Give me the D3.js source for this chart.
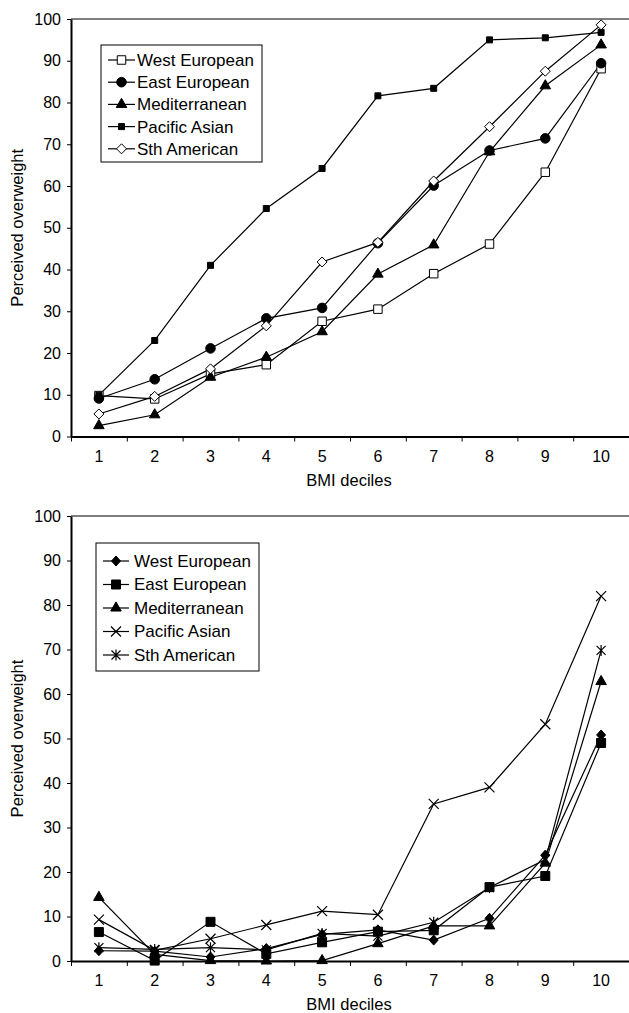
<!DOCTYPE html>
<html>
<head>
<meta charset="utf-8">
<script src="https://cdn.jsdelivr.net/npm/d3@7"></script>
<style>
  body { margin: 0; background: #fff; }
  svg { display: block; font-family: "Liberation Sans", Arial, sans-serif; }
</style>
</head>
<body>
<div id="chart"></div>
<script>
// categories and tick labels
var deciles = [1, 2, 3, 4, 5, 6, 7, 8, 9, 10];
var yTicks = [0, 10, 20, 30, 40, 50, 60, 70, 80, 90, 100];
var seriesNames = ["West European", "East European", "Mediterranean", "Pacific Asian", "Sth American"];

// upper panel values
var topWest    = [9.8, 9.0, 15.0, 17.2, 27.6, 30.5, 39.0, 46.1, 63.3, 88.1];
var topEast    = [9.1, 13.7, 21.1, 28.3, 30.8, 46.3, 60.1, 68.5, 71.4, 89.4];
var topMed     = [2.6, 5.2, 14.2, 19.0, 25.1, 38.9, 45.9, 68.2, 84.0, 93.8];
var topPacific = [9.9, 23.0, 41.0, 54.6, 64.2, 81.6, 83.4, 95.0, 95.5, 96.8];
var topSth     = [5.4, 9.6, 16.2, 26.5, 41.8, 46.5, 61.2, 74.2, 87.5, 98.6];

// lower panel values
var botWest    = [2.3, 2.2, 0.9, 2.8, 6.0, 7.0, 4.7, 9.6, 23.8, 50.8];
var botEast    = [6.5, 0.1, 8.8, 1.6, 4.2, 6.6, 6.9, 16.6, 19.1, 49.0];
var botMed     = [14.3, 1.5, 0.1, 0.0, 0.1, 3.9, 7.9, 7.9, 22.0, 62.8];
var botPacific = [9.3, 2.4, 5.0, 8.1, 11.2, 10.4, 35.3, 39.0, 53.2, 82.0];
var botSth     = [3.0, 2.6, 3.0, 2.5, 6.2, 5.6, 8.7, 16.5, 22.8, 69.8];

var W = 629, H = 1013;
var svg = d3.select("#chart").append("svg")
    .attr("width", W)
    .attr("height", H);

// marker paths
function markerPath(type) {
  if (type === "square") return d3.symbol(d3.symbolSquare, 72)();
  if (type === "smallsquare") return d3.symbol(d3.symbolSquare, 36)();
  if (type === "bigsquare") return d3.symbol(d3.symbolSquare, 81)();
  if (type === "circle") return d3.symbol(d3.symbolCircle, 72)();
  if (type === "triangle") return d3.symbol(d3.symbolTriangle, 48)();
  if (type === "diamond") return "M0,-5L5,0L0,5L-5,0Z";
  if (type === "fdiamond") return "M0,-5L4.5,0L0,5L-4.5,0Z";
  if (type === "x") return "M-5,-5L5,5M-5,5L5,-5";
  if (type === "asterisk") return "M-4.5,-4.5L4.5,4.5M-4.5,4.5L4.5,-4.5M0,-5.5L0,5.5";
}

function drawMarker(g, type, filled) {
  var p = g.append("path").attr("d", markerPath(type)).attr("stroke", "#000");
  if (type === "x" || type === "asterisk") {
    p.attr("fill", "none").attr("stroke-width", 1.2);
  } else {
    p.attr("fill", filled ? "#000" : "#fff").attr("stroke-width", 1);
  }
}

function drawChart(cfg) {
  var g = svg.append("g");

  var x = d3.scaleBand().domain(deciles).range([71, 629]).paddingInner(0).paddingOuter(0);
  var xEdge = d3.scaleLinear().domain([0, 10]).range([71, 629]);
  var y = d3.scaleLinear().domain([0, 100]).range([cfg.bottom, cfg.top]);

  // top frame line
  g.append("line")
    .attr("x1", 71).attr("x2", 629)
    .attr("y1", cfg.top).attr("y2", cfg.top)
    .attr("stroke", "#000").attr("stroke-width", 1.2);

  // y axis
  var yAxis = g.append("g")
    .attr("transform", "translate(71,0)")
    .call(d3.axisLeft(y).tickValues(yTicks).tickSize(4).tickSizeOuter(0).tickPadding(6));
  yAxis.select(".domain").attr("stroke-width", 2);
  yAxis.selectAll("text").style("font-size", "16px").attr("fill", "#000")
    .attr("font-family", "Liberation Sans, Arial, sans-serif");

  // x axis: boundary ticks
  var xAxis = g.append("g")
    .attr("transform", "translate(0," + cfg.bottom + ")")
    .call(d3.axisBottom(xEdge).tickValues(d3.range(0, 11)).tickFormat("").tickSize(5).tickSizeOuter(0));
  xAxis.select(".domain").attr("stroke-width", 2);

  // x axis labels at band centres
  var xLab = g.append("g")
    .attr("transform", "translate(0," + cfg.bottom + ")")
    .call(d3.axisBottom(x).tickSize(0).tickPadding(14));
  xLab.select(".domain").remove();
  xLab.selectAll("text").style("font-size", "16px").attr("fill", "#000")
    .attr("font-family", "Liberation Sans, Arial, sans-serif");

  // axis titles
  g.append("text")
    .attr("transform", "translate(23," + ((cfg.top + cfg.bottom) / 2) + ") rotate(-90)")
    .attr("text-anchor", "middle")
    .style("font-size", "16.5px")
    .text("Perceived overweight");
  g.append("text")
    .attr("x", 349)
    .attr("y", cfg.bottom + 49)
    .attr("text-anchor", "middle")
    .style("font-size", "16.5px")
    .text("BMI deciles");

  var line = d3.line()
    .x(function(d, i) { return x(deciles[i]) + x.bandwidth() / 2; })
    .y(function(d) { return y(d); });

  cfg.series.forEach(function(s) {
    g.append("path")
      .datum(s.values)
      .attr("fill", "none")
      .attr("stroke", "#000")
      .attr("stroke-width", 1.2)
      .attr("d", line);
  });
  cfg.series.forEach(function(s) {
    s.values.forEach(function(v, i) {
      var m = g.append("g")
        .attr("transform", "translate(" + (x(deciles[i]) + x.bandwidth() / 2) + "," + y(v) + ")");
      drawMarker(m, s.marker, s.filled);
    });
  });

  // legend
  var L = cfg.legend;
  g.append("rect")
    .attr("x", L.x).attr("y", L.y)
    .attr("width", L.w).attr("height", L.h)
    .attr("fill", "#fff").attr("stroke", "#000").attr("stroke-width", 1);
  cfg.series.forEach(function(s, i) {
    var ry = L.row0 + i * L.step;
    g.append("line")
      .attr("x1", L.lx1).attr("x2", L.lx2)
      .attr("y1", ry).attr("y2", ry)
      .attr("stroke", "#000").attr("stroke-width", 1.2);
    var m = g.append("g").attr("transform", "translate(" + ((L.lx1 + L.lx2) / 2) + "," + ry + ")");
    drawMarker(m, s.marker, s.filled);
    g.append("text")
      .attr("x", L.tx).attr("y", ry)
      .attr("dy", "0.35em")
      .style("font-size", "17px")
      .text(s.name);
  });
}

drawChart({
  top: 19, bottom: 436.5,
  series: [
    { name: seriesNames[0], values: topWest, marker: "square", filled: false },
    { name: seriesNames[1], values: topEast, marker: "circle", filled: true },
    { name: seriesNames[2], values: topMed, marker: "triangle", filled: true },
    { name: seriesNames[3], values: topPacific, marker: "smallsquare", filled: true },
    { name: seriesNames[4], values: topSth, marker: "diamond", filled: false }
  ],
  legend: { x: 101, y: 45, w: 161, h: 117, row0: 60, step: 22.2, lx1: 108, lx2: 135, tx: 137 }
});

drawChart({
  top: 516, bottom: 961,
  series: [
    { name: seriesNames[0], values: botWest, marker: "fdiamond", filled: true },
    { name: seriesNames[1], values: botEast, marker: "bigsquare", filled: true },
    { name: seriesNames[2], values: botMed, marker: "triangle", filled: true },
    { name: seriesNames[3], values: botPacific, marker: "x", filled: false },
    { name: seriesNames[4], values: botSth, marker: "asterisk", filled: false }
  ],
  legend: { x: 96, y: 543, w: 163, h: 128, row0: 561, step: 23.5, lx1: 103, lx2: 129, tx: 134 }
});
</script>
</body>
</html>
